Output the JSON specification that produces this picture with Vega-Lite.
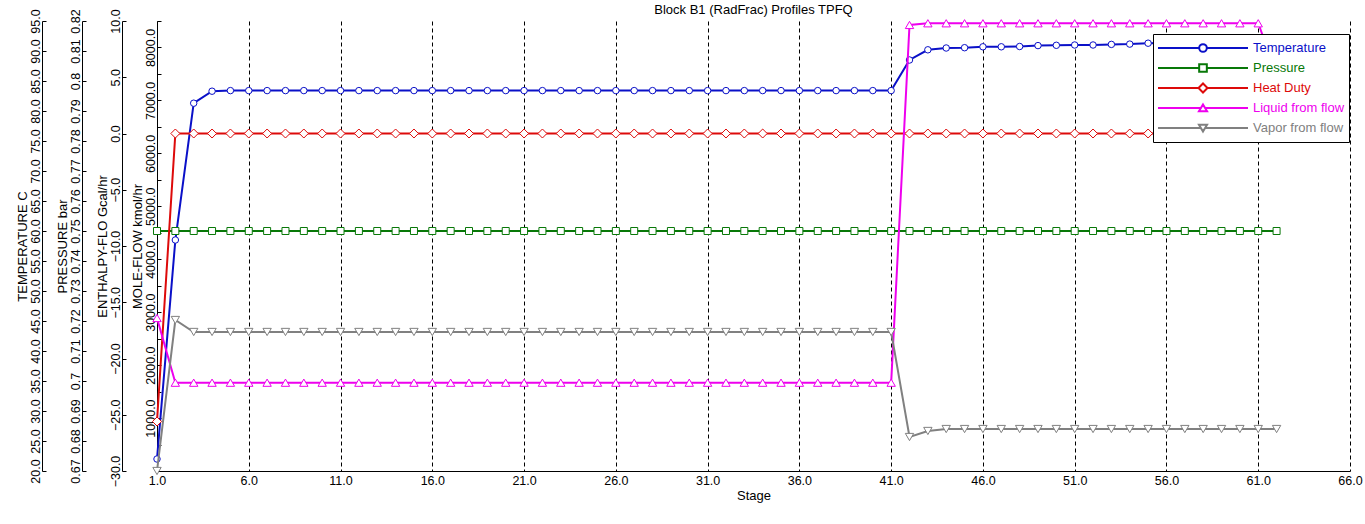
{
  "$schema": "https://vega.github.io/schema/vega-lite/v6.json",
  "width": 1193,
  "height": 450,
  "autosize": {"type": "none"},
  "padding": {"left": 157, "top": 21, "right": 15, "bottom": 53},
  "background": "white",
  "title": {"text": "Block B1 (RadFrac) Profiles TPFQ", "frame": "group", "anchor": "middle", "offset": 6, "dy": 24, "baseline": "alphabetic", "fontSize": 13, "fontWeight": "normal", "font": "Liberation Sans", "color": "black"},
  "config": {
    "view": {"stroke": null},
    "font": "Liberation Sans",
    "axis": {"labelFont": "Liberation Sans", "titleFont": "Liberation Sans", "labelFontSize": 12.5, "titleFontSize": 13, "titleFontWeight": "normal", "labelColor": "black", "titleColor": "black", "domainColor": "black", "tickColor": "black", "labelFlush": false, "labelOverlap": false}
  },
  "data": {"values": [
    {"stage": 1, "Temperature": 22.0, "Pressure": 0.75, "Heat Duty": -25.6, "Liquid from flow": 2890, "Vapor from flow": 0},
    {"stage": 2, "Temperature": 58.5, "Pressure": 0.75, "Heat Duty": 0, "Liquid from flow": 1668, "Vapor from flow": 2852},
    {"stage": 3, "Temperature": 81.3, "Pressure": 0.75, "Heat Duty": 0, "Liquid from flow": 1668, "Vapor from flow": 2626},
    {"stage": 4, "Temperature": 83.3, "Pressure": 0.75, "Heat Duty": 0, "Liquid from flow": 1668, "Vapor from flow": 2626},
    {"stage": 5, "Temperature": 83.4, "Pressure": 0.75, "Heat Duty": 0, "Liquid from flow": 1668, "Vapor from flow": 2626},
    {"stage": 6, "Temperature": 83.4, "Pressure": 0.75, "Heat Duty": 0, "Liquid from flow": 1668, "Vapor from flow": 2626},
    {"stage": 7, "Temperature": 83.4, "Pressure": 0.75, "Heat Duty": 0, "Liquid from flow": 1668, "Vapor from flow": 2626},
    {"stage": 8, "Temperature": 83.4, "Pressure": 0.75, "Heat Duty": 0, "Liquid from flow": 1668, "Vapor from flow": 2626},
    {"stage": 9, "Temperature": 83.4, "Pressure": 0.75, "Heat Duty": 0, "Liquid from flow": 1668, "Vapor from flow": 2626},
    {"stage": 10, "Temperature": 83.4, "Pressure": 0.75, "Heat Duty": 0, "Liquid from flow": 1668, "Vapor from flow": 2626},
    {"stage": 11, "Temperature": 83.4, "Pressure": 0.75, "Heat Duty": 0, "Liquid from flow": 1668, "Vapor from flow": 2626},
    {"stage": 12, "Temperature": 83.4, "Pressure": 0.75, "Heat Duty": 0, "Liquid from flow": 1668, "Vapor from flow": 2626},
    {"stage": 13, "Temperature": 83.4, "Pressure": 0.75, "Heat Duty": 0, "Liquid from flow": 1668, "Vapor from flow": 2626},
    {"stage": 14, "Temperature": 83.4, "Pressure": 0.75, "Heat Duty": 0, "Liquid from flow": 1668, "Vapor from flow": 2626},
    {"stage": 15, "Temperature": 83.4, "Pressure": 0.75, "Heat Duty": 0, "Liquid from flow": 1668, "Vapor from flow": 2626},
    {"stage": 16, "Temperature": 83.4, "Pressure": 0.75, "Heat Duty": 0, "Liquid from flow": 1668, "Vapor from flow": 2626},
    {"stage": 17, "Temperature": 83.4, "Pressure": 0.75, "Heat Duty": 0, "Liquid from flow": 1668, "Vapor from flow": 2626},
    {"stage": 18, "Temperature": 83.4, "Pressure": 0.75, "Heat Duty": 0, "Liquid from flow": 1668, "Vapor from flow": 2626},
    {"stage": 19, "Temperature": 83.4, "Pressure": 0.75, "Heat Duty": 0, "Liquid from flow": 1668, "Vapor from flow": 2626},
    {"stage": 20, "Temperature": 83.4, "Pressure": 0.75, "Heat Duty": 0, "Liquid from flow": 1668, "Vapor from flow": 2626},
    {"stage": 21, "Temperature": 83.4, "Pressure": 0.75, "Heat Duty": 0, "Liquid from flow": 1668, "Vapor from flow": 2626},
    {"stage": 22, "Temperature": 83.4, "Pressure": 0.75, "Heat Duty": 0, "Liquid from flow": 1668, "Vapor from flow": 2626},
    {"stage": 23, "Temperature": 83.4, "Pressure": 0.75, "Heat Duty": 0, "Liquid from flow": 1668, "Vapor from flow": 2626},
    {"stage": 24, "Temperature": 83.4, "Pressure": 0.75, "Heat Duty": 0, "Liquid from flow": 1668, "Vapor from flow": 2626},
    {"stage": 25, "Temperature": 83.4, "Pressure": 0.75, "Heat Duty": 0, "Liquid from flow": 1668, "Vapor from flow": 2626},
    {"stage": 26, "Temperature": 83.4, "Pressure": 0.75, "Heat Duty": 0, "Liquid from flow": 1668, "Vapor from flow": 2626},
    {"stage": 27, "Temperature": 83.4, "Pressure": 0.75, "Heat Duty": 0, "Liquid from flow": 1668, "Vapor from flow": 2626},
    {"stage": 28, "Temperature": 83.4, "Pressure": 0.75, "Heat Duty": 0, "Liquid from flow": 1668, "Vapor from flow": 2626},
    {"stage": 29, "Temperature": 83.4, "Pressure": 0.75, "Heat Duty": 0, "Liquid from flow": 1668, "Vapor from flow": 2626},
    {"stage": 30, "Temperature": 83.4, "Pressure": 0.75, "Heat Duty": 0, "Liquid from flow": 1668, "Vapor from flow": 2626},
    {"stage": 31, "Temperature": 83.4, "Pressure": 0.75, "Heat Duty": 0, "Liquid from flow": 1668, "Vapor from flow": 2626},
    {"stage": 32, "Temperature": 83.4, "Pressure": 0.75, "Heat Duty": 0, "Liquid from flow": 1668, "Vapor from flow": 2626},
    {"stage": 33, "Temperature": 83.4, "Pressure": 0.75, "Heat Duty": 0, "Liquid from flow": 1668, "Vapor from flow": 2626},
    {"stage": 34, "Temperature": 83.4, "Pressure": 0.75, "Heat Duty": 0, "Liquid from flow": 1668, "Vapor from flow": 2626},
    {"stage": 35, "Temperature": 83.4, "Pressure": 0.75, "Heat Duty": 0, "Liquid from flow": 1668, "Vapor from flow": 2626},
    {"stage": 36, "Temperature": 83.4, "Pressure": 0.75, "Heat Duty": 0, "Liquid from flow": 1668, "Vapor from flow": 2626},
    {"stage": 37, "Temperature": 83.4, "Pressure": 0.75, "Heat Duty": 0, "Liquid from flow": 1668, "Vapor from flow": 2626},
    {"stage": 38, "Temperature": 83.4, "Pressure": 0.75, "Heat Duty": 0, "Liquid from flow": 1668, "Vapor from flow": 2626},
    {"stage": 39, "Temperature": 83.4, "Pressure": 0.75, "Heat Duty": 0, "Liquid from flow": 1668, "Vapor from flow": 2626},
    {"stage": 40, "Temperature": 83.4, "Pressure": 0.75, "Heat Duty": 0, "Liquid from flow": 1668, "Vapor from flow": 2626},
    {"stage": 41, "Temperature": 83.4, "Pressure": 0.75, "Heat Duty": 0, "Liquid from flow": 1668, "Vapor from flow": 2626},
    {"stage": 42, "Temperature": 88.5, "Pressure": 0.75, "Heat Duty": 0, "Liquid from flow": 8425, "Vapor from flow": 642},
    {"stage": 43, "Temperature": 90.2, "Pressure": 0.75, "Heat Duty": 0, "Liquid from flow": 8457, "Vapor from flow": 756},
    {"stage": 44, "Temperature": 90.5, "Pressure": 0.75, "Heat Duty": 0, "Liquid from flow": 8457, "Vapor from flow": 793},
    {"stage": 45, "Temperature": 90.55, "Pressure": 0.75, "Heat Duty": 0, "Liquid from flow": 8457, "Vapor from flow": 793},
    {"stage": 46, "Temperature": 90.7, "Pressure": 0.75, "Heat Duty": 0, "Liquid from flow": 8457, "Vapor from flow": 793},
    {"stage": 47, "Temperature": 90.7, "Pressure": 0.75, "Heat Duty": 0, "Liquid from flow": 8457, "Vapor from flow": 793},
    {"stage": 48, "Temperature": 90.75, "Pressure": 0.75, "Heat Duty": 0, "Liquid from flow": 8457, "Vapor from flow": 793},
    {"stage": 49, "Temperature": 90.9, "Pressure": 0.75, "Heat Duty": 0, "Liquid from flow": 8457, "Vapor from flow": 793},
    {"stage": 50, "Temperature": 90.95, "Pressure": 0.75, "Heat Duty": 0, "Liquid from flow": 8457, "Vapor from flow": 793},
    {"stage": 51, "Temperature": 91.0, "Pressure": 0.75, "Heat Duty": 0, "Liquid from flow": 8457, "Vapor from flow": 793},
    {"stage": 52, "Temperature": 91.0, "Pressure": 0.75, "Heat Duty": 0, "Liquid from flow": 8457, "Vapor from flow": 793},
    {"stage": 53, "Temperature": 91.1, "Pressure": 0.75, "Heat Duty": 0, "Liquid from flow": 8457, "Vapor from flow": 793},
    {"stage": 54, "Temperature": 91.15, "Pressure": 0.75, "Heat Duty": 0, "Liquid from flow": 8457, "Vapor from flow": 793},
    {"stage": 55, "Temperature": 91.3, "Pressure": 0.75, "Heat Duty": 0, "Liquid from flow": 8457, "Vapor from flow": 793},
    {"stage": 56, "Temperature": 91.35, "Pressure": 0.75, "Heat Duty": 0, "Liquid from flow": 8457, "Vapor from flow": 793},
    {"stage": 57, "Temperature": 91.4, "Pressure": 0.75, "Heat Duty": 0, "Liquid from flow": 8457, "Vapor from flow": 793},
    {"stage": 58, "Temperature": 91.45, "Pressure": 0.75, "Heat Duty": 0, "Liquid from flow": 8457, "Vapor from flow": 793},
    {"stage": 59, "Temperature": 91.5, "Pressure": 0.75, "Heat Duty": 0, "Liquid from flow": 8457, "Vapor from flow": 793},
    {"stage": 60, "Temperature": 91.55, "Pressure": 0.75, "Heat Duty": 0, "Liquid from flow": 8457, "Vapor from flow": 793},
    {"stage": 61, "Temperature": 91.6, "Pressure": 0.75, "Heat Duty": 0, "Liquid from flow": 8457, "Vapor from flow": 793},
    {"stage": 62, "Temperature": 92.0, "Pressure": 0.75, "Heat Duty": 5.0, "Liquid from flow": 7500, "Vapor from flow": 793}
  ]},
  "transform": [
    {"fold": ["Temperature", "Pressure", "Heat Duty", "Liquid from flow", "Vapor from flow"], "as": ["series", "value"]}
  ],
  "encoding": {
    "x": {"field": "stage", "type": "quantitative",
      "scale": {"domain": [1, 66], "nice": false, "zero": false},
      "axis": {"values": [1, 6, 11, 16, 21, 26, 31, 36, 41, 46, 51, 56, 61, 66], "format": ".1f", "title": "Stage",
        "grid": true, "gridColor": "black", "gridDash": [4, 3], "gridOpacity": 1, "gridWidth": 1,
        "ticks": false, "tickSize": 0, "labelPadding": 3, "titlePadding": 3, "labelAngle": 0}},
    "color": {"field": "series", "type": "nominal",
      "scale": {"domain": ["Temperature", "Pressure", "Heat Duty", "Liquid from flow", "Vapor from flow"],
                "range": ["#0a10c8", "#087808", "#dd0a0a", "#ee00ee", "#808080"]},
      "legend": {"orient": "none", "legendX": 996, "legendY": 13, "title": null,
        "strokeColor": "black", "fillColor": "white", "padding": 4, "cornerRadius": 0,
        "labelFont": "Liberation Sans", "labelFontSize": 13, "labelOffset": 4,
        "symbolSize": 8100, "symbolStrokeWidth": 2, "clipHeight": 20, "rowPadding": 0,
        "encode": {
          "symbols": {"update": {
            "fill": {"value": "white"},
            "shape": {"signal": "datum.value === 'Temperature' ? 'M-1,0H-0.085M0.085,0H1M-0.085,0A0.085,0.085,0,1,1,0.085,0A0.085,0.085,0,1,1,-0.085,0Z' : datum.value === 'Pressure' ? 'M-1,0H-0.085M0.085,0H1M-0.085,-0.085H0.085V0.085H-0.085Z' : datum.value === 'Heat Duty' ? 'M-1,0H-0.1M0.1,0H1M-0.1,0L0,-0.1L0.1,0L0,0.1Z' : datum.value === 'Liquid from flow' ? 'M-1,0H-0.048M0.048,0H1M0,-0.08L0.09,0.07L-0.09,0.07Z' : 'M-1,0H-0.048M0.048,0H1M0,0.08L0.09,-0.07L-0.09,-0.07Z'"}
          }},
          "labels": {"update": {"fill": {"scale": "color", "field": "value"}}}
        }}}
  },
  "layer": [
    {
      "transform": [{"filter": "datum.series === 'Temperature'"}],
      "mark": {"type": "line", "strokeWidth": 2, "point": {"shape": "circle", "filled": false, "fill": "white", "size": 42, "strokeWidth": 1, "opacity": 1}},
      "encoding": {"y": {"field": "value", "type": "quantitative",
        "scale": {"domain": [20, 95], "nice": false, "zero": false},
        "axis": {"orient": "left", "offset": 115, "title": "TEMPERATURE C", "values": [20, 25, 30, 35, 40, 45, 50, 55, 60, 65, 70, 75, 80, 85, 90, 95], "format": ".1f",
          "labelAngle": -90, "labelAlign": "center", "labelBaseline": "alphabetic", "tickSize": -4, "labelPadding": 6.5, "titlePadding": 0, "grid": false}}}
    },
    {
      "transform": [{"filter": "datum.series === 'Pressure'"}],
      "mark": {"type": "line", "strokeWidth": 2, "point": {"shape": "square", "filled": false, "fill": "white", "size": 49, "strokeWidth": 1, "opacity": 1}},
      "encoding": {"y": {"field": "value", "type": "quantitative",
        "scale": {"domain": [0.67, 0.82], "nice": false, "zero": false},
        "axis": {"orient": "left", "offset": 75, "title": "PRESSURE bar", "values": [0.67, 0.68, 0.69, 0.7, 0.71, 0.72, 0.73, 0.74, 0.75, 0.76, 0.77, 0.78, 0.79, 0.8, 0.81, 0.82], "format": ".2~f",
          "labelAngle": -90, "labelAlign": "center", "labelBaseline": "alphabetic", "tickSize": -4, "labelPadding": 6.5, "titlePadding": 0, "grid": false}}}
    },
    {
      "transform": [{"filter": "datum.series === 'Heat Duty'"}],
      "mark": {"type": "line", "strokeWidth": 2, "point": {"shape": "diamond", "filled": false, "fill": "white", "size": 81, "strokeWidth": 1, "opacity": 1}},
      "encoding": {"y": {"field": "value", "type": "quantitative",
        "scale": {"domain": [-30, 10], "nice": false, "zero": false},
        "axis": {"orient": "left", "offset": 35, "title": "ENTHALPY-FLO Gcal/hr", "values": [-30, -25, -20, -15, -10, -5, 0, 5, 10], "format": ".1f",
          "labelAngle": -90, "labelAlign": "center", "labelBaseline": "alphabetic", "tickSize": -4, "labelPadding": 6.5, "titlePadding": 0, "grid": false}}}
    },
    {
      "encoding": {"y": {"field": "value", "type": "quantitative",
        "scale": {"domain": [0, 8500], "nice": false, "zero": false},
        "axis": {"orient": "left", "offset": 0, "title": "MOLE-FLOW kmol/hr", "values": [0, 500, 1000, 1500, 2000, 2500, 3000, 3500, 4000, 4500, 5000, 5500, 6000, 6500, 7000, 7500, 8000, 8500],
          "labelExpr": "datum.value % 1000 === 0 && datum.value > 0 ? format(datum.value, '.1f') : ''",
          "labelAngle": -90, "labelAlign": "center", "labelBaseline": "alphabetic", "tickSize": -4, "labelPadding": 6.5, "titlePadding": 0, "grid": false}}},
      "layer": [
        {
          "transform": [{"filter": "datum.series === 'Liquid from flow'"}],
          "mark": {"type": "line", "strokeWidth": 2, "point": {"shape": "triangle-up", "filled": false, "fill": "white", "size": 70, "strokeWidth": 1, "opacity": 1}}
        },
        {
          "transform": [{"filter": "datum.series === 'Vapor from flow'"}],
          "mark": {"type": "line", "strokeWidth": 2, "point": {"shape": "triangle-down", "filled": false, "fill": "white", "size": 70, "strokeWidth": 1, "opacity": 1}}
        }
      ]
    }
  ],
  "resolve": {"scale": {"y": "independent"}, "axis": {"y": "independent"}}
}
